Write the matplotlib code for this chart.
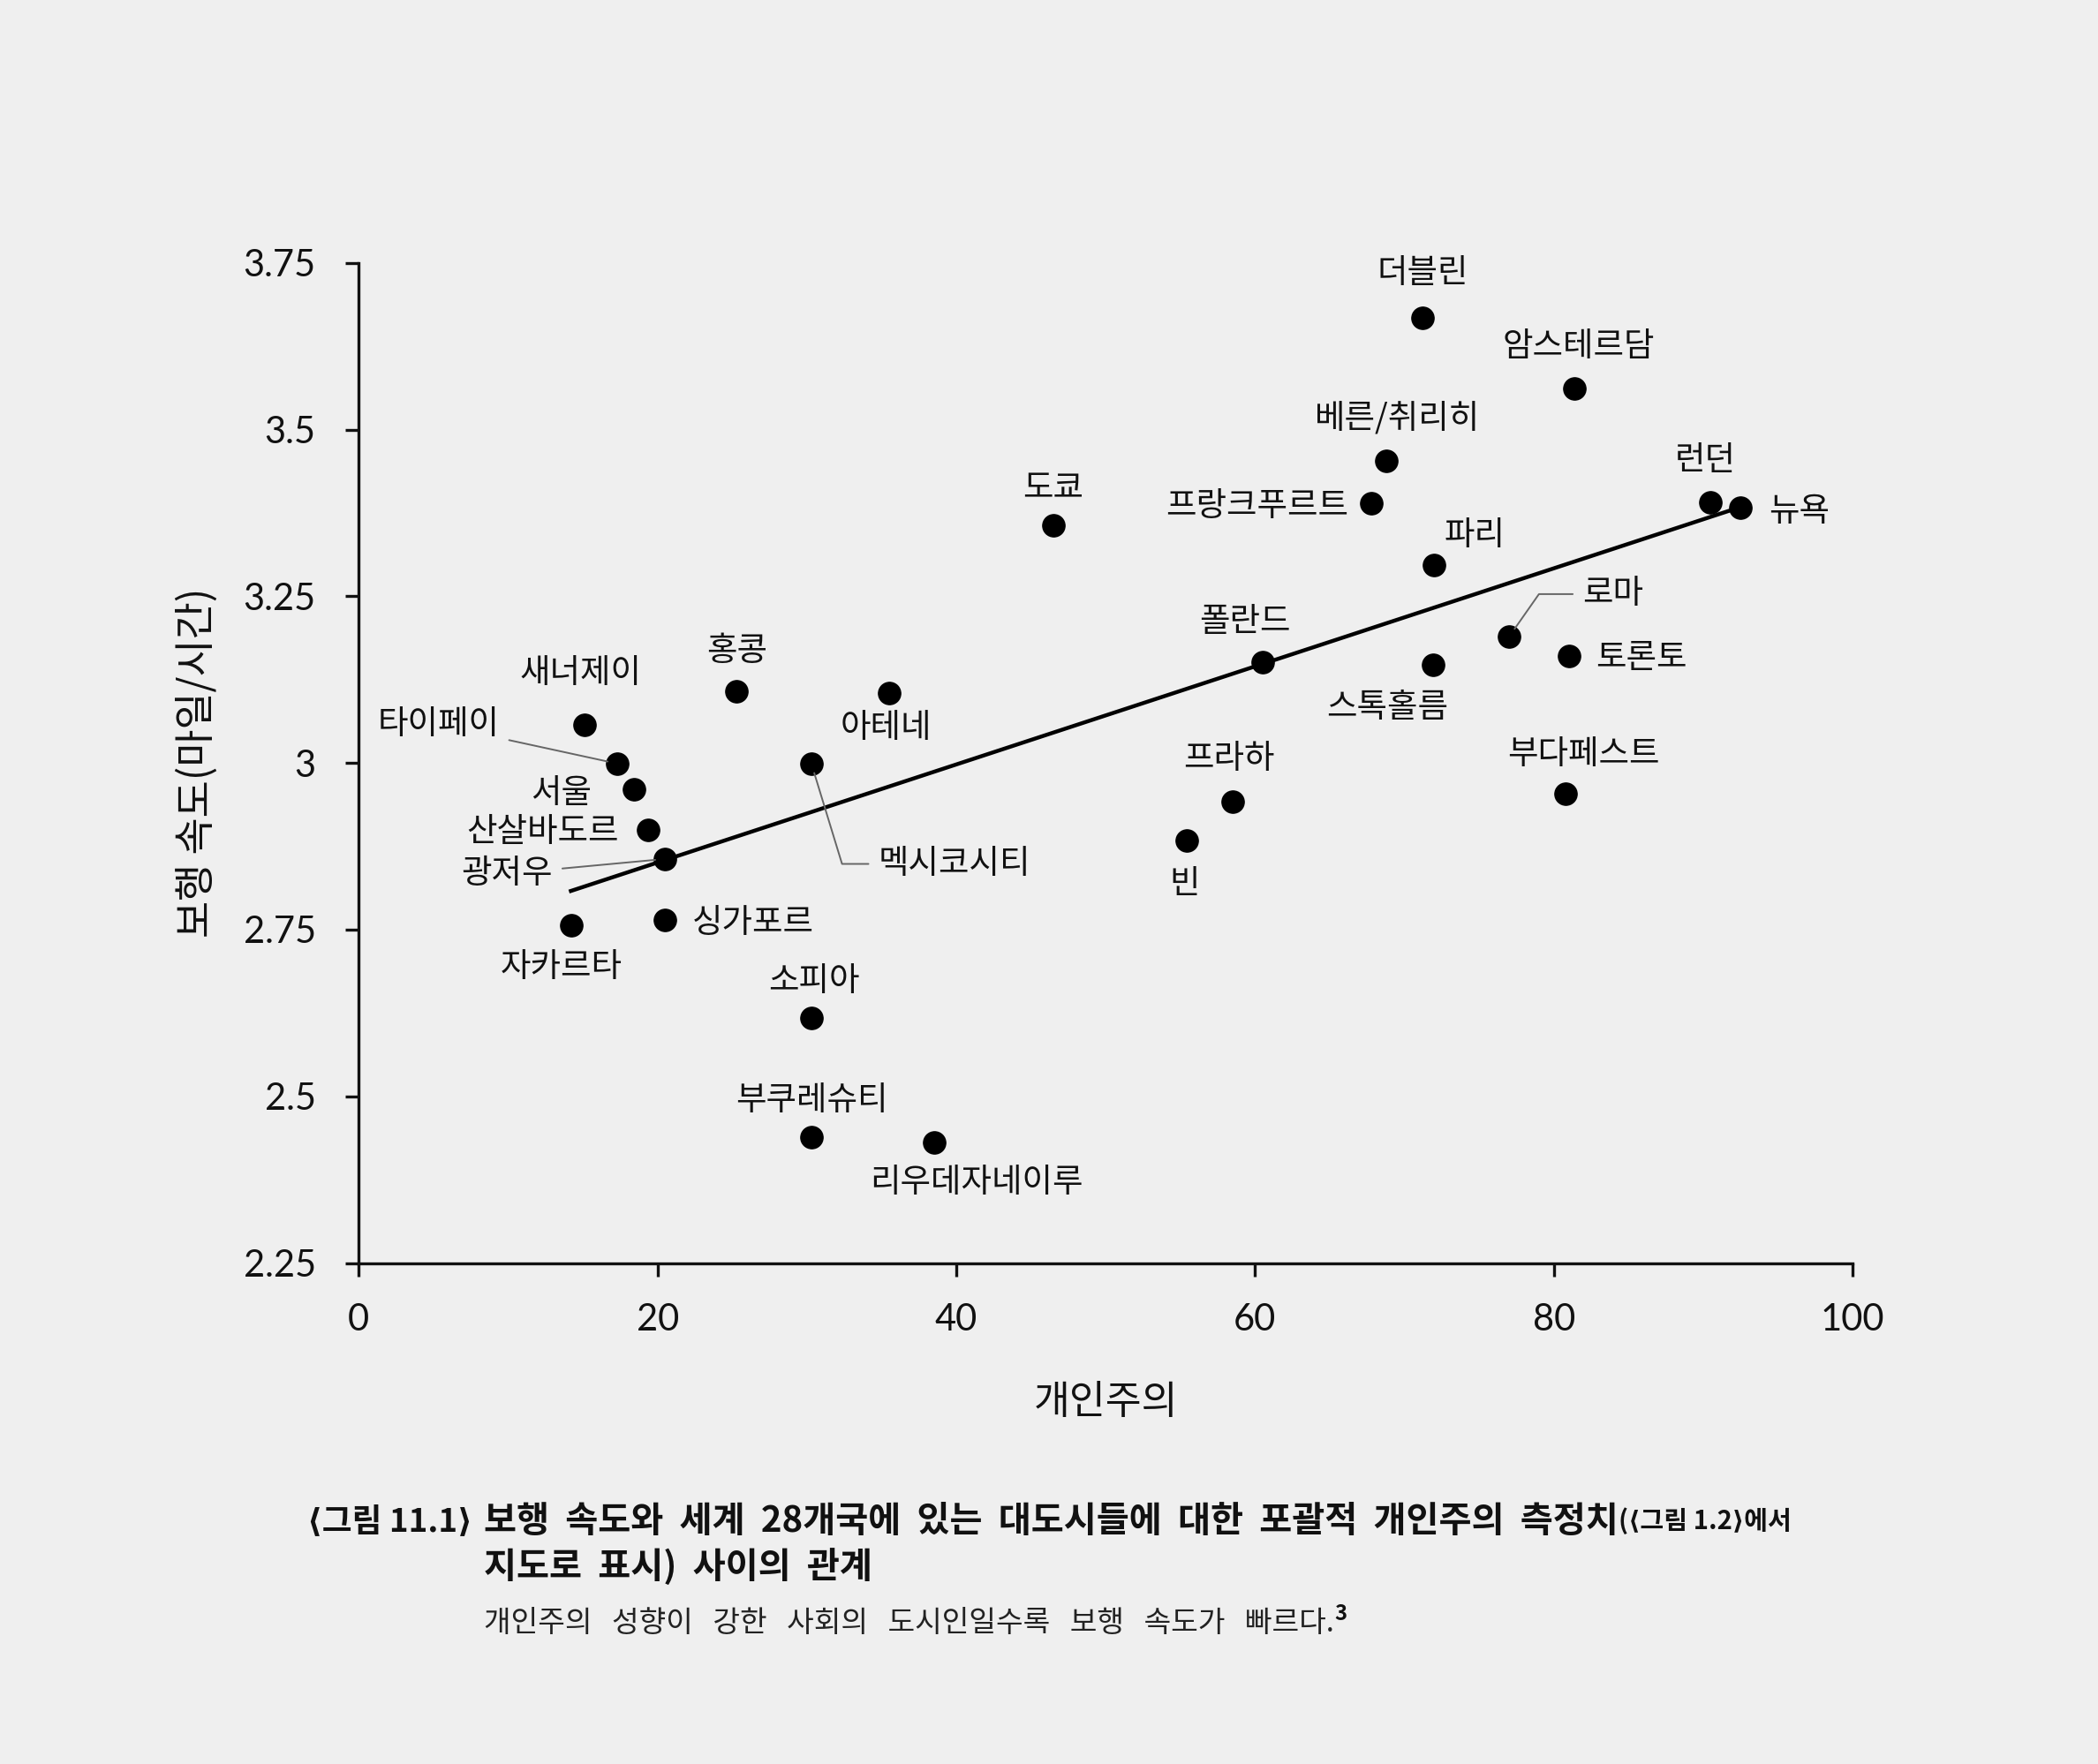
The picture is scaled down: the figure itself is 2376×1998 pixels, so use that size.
import numpy as np
import matplotlib
matplotlib.use('Agg')
import matplotlib.pyplot as plt

plt.rcParams['font.family'] = ['Noto Sans CJK KR', 'DejaVu Sans']

# data
cities = ['더블린', '암스테르담', '베른/취리히', '프랑크푸르트', '도쿄', '런던', '뉴욕',
          '파리', '로마', '폴란드', '스톡홀름', '토론토', '홍콩', '아테네', '멕시코시티',
          '새너제이', '타이페이', '서울', '산살바도르', '광저우', '자카르타', '싱가포르',
          '소피아', '부쿠레슈티', '리우데자네이루', '빈', '프라하', '부다페스트']
individualism = [71.2, 81.4, 68.8, 67.8, 46.5, 90.5, 92.5,
                 72.0, 77.0, 60.5, 71.9, 81.0, 25.3, 35.5, 30.3,
                 15.1, 17.3, 18.4, 19.4, 20.5, 14.2, 20.5,
                 30.3, 30.3, 38.5, 55.4, 58.5, 80.8]
walking_speed = [3.668, 3.562, 3.453, 3.389, 3.357, 3.391, 3.383,
                 3.297, 3.189, 3.151, 3.147, 3.161, 3.107, 3.105, 2.999,
                 3.057, 2.999, 2.960, 2.900, 2.856, 2.756, 2.764,
                 2.618, 2.439, 2.431, 2.884, 2.942, 2.954]
trend_x = [14.2, 92.4]
trend_y = [2.808, 3.383]

x_ticks = [0, 20, 40, 60, 80, 100]
y_ticks = [2.25, 2.5, 2.75, 3, 3.25, 3.5, 3.75]
y_tick_labels = ['2.25', '2.5', '2.75', '3', '3.25', '3.5', '3.75']

# label placement: (dx, dy) in reference pixels, horizontal alignment
label_pos = {
    '더블린': (0, 33, 'center'), '암스테르담': (3, 31, 'center'),
    '베른/취리히': (8, 31, 'center'), '프랑크푸르트': (-17, -2, 'right'),
    '도쿄': (0, 27, 'center'), '런던': (-4, 31, 'center'), '뉴욕': (21, -3, 'left'),
    '파리': (30, 22, 'center'), '로마': (55, 32, 'left'), '폴란드': (-13, 30, 'center'),
    '스톡홀름': (-34, -32, 'center'), '토론토': (20, -2, 'left'), '홍콩': (0, 30, 'center'),
    '아테네': (-2, -26, 'center'), '멕시코시티': (50, -75, 'left'),
    '새너제이': (-3, 39, 'center'), '타이페이': (-88, 29, 'right'), '서울': (-31, -3, 'right'),
    '산살바도르': (-22, -2, 'right'), '광저우': (-84, -11, 'right'),
    '자카르타': (-7, -31, 'center'), '싱가포르': (20, -2, 'left'), '소피아': (2, 27, 'center'),
    '부쿠레슈티': (0, 27, 'center'), '리우데자네이루': (32, -30, 'center'),
    '빈': (-1, -33, 'center'), '프라하': (-3, 32, 'center'), '부다페스트': (13, 29, 'center'),
}
leaders = {
    '타이페이': 'arc3,rad=0',
    '광저우': 'arc3,rad=0',
    '멕시코시티': 'angle,angleA=0,angleB=107,rad=0',
    '로마': 'angle,angleA=0,angleB=55,rad=0',
}
px = 1.515 * 0.72  # reference px -> points

bg = '#efefef'
ink = '#111111'
fig = plt.figure(figsize=(23.76, 19.98), dpi=100, facecolor=bg)
ax = fig.add_axes([0.171, 0.284, 0.712, 0.567])
ax.set_facecolor(bg)

ax.plot(trend_x, trend_y, color='black', lw=3.2, zorder=2)
ax.scatter(individualism, walking_speed, s=330, color='black', zorder=3)

for name, xv, yv in zip(cities, individualism, walking_speed):
    dx, dy, ha = label_pos[name]
    kw = {}
    if name in leaders:
        kw['arrowprops'] = dict(arrowstyle='-', color='#666666', lw=1.4,
                                connectionstyle=leaders[name], shrinkA=6, shrinkB=8)
    ax.annotate(name, (xv, yv), xytext=(dx * px, dy * px), textcoords='offset points',
                ha=ha, va='center', fontsize=27, color=ink, zorder=4, **kw)

ax.set_xlim(0, 100)
ax.set_ylim(2.25, 3.75)
ax.set_xticks(x_ticks)
ax.set_xticklabels([str(t) for t in x_ticks], fontfamily='Lato', fontsize=30)
ax.set_yticks(y_ticks)
ax.set_yticklabels(y_tick_labels, fontfamily='Lato', fontsize=30)
ax.tick_params(direction='out', length=11, width=2.4, colors=ink)
ax.tick_params(axis='x', pad=22)
ax.tick_params(axis='y', pad=24)
for side in ['top', 'right']:
    ax.spines[side].set_visible(False)
for side in ['left', 'bottom']:
    ax.spines[side].set_linewidth(2.4)
    ax.spines[side].set_color(ink)

ax.set_xlabel('개인주의', fontsize=32, color=ink, va='center')
ax.xaxis.set_label_coords(0.5, -0.139)
ax.set_ylabel('보행 속도(마일/시간)', fontsize=33, color=ink, va='center')
ax.yaxis.set_label_coords(-0.108, 0.5)

# caption
line1 = '  '.join('보행 속도와 세계 28개국에 있는 대도시들에 대한 포괄적 개인주의 측정치'.split(' '))
line2 = '  '.join('지도로 표시) 사이의 관계'.split(' '))
line3 = '   '.join('개인주의 성향이 강한 사회의 도시인일수록 보행 속도가 빠르다.'.split(' '))

fig.text(0.1466, 0.1376, '⟨그림 11.1⟩', fontsize=26.5, fontweight='bold', color=ink, va='center')
t1 = fig.text(0.2308, 0.1376, line1, fontsize=29, fontweight='bold', color=ink, va='center')
ax.annotate('(⟨그림 1.2⟩에서', xy=(1, 0.5), xycoords=t1, ha='left', va='center',
            fontsize=21, fontweight='bold', color=ink)
fig.text(0.2308, 0.111, line2, fontsize=29, fontweight='bold', color=ink, va='center')
t3 = fig.text(0.2308, 0.080, line3, fontsize=24, color='#222222', va='center')
ax.annotate('3', xy=(1, 0.8), xycoords=t3, ha='left', va='center',
            fontsize=17, fontweight='bold', color=ink)

fig.savefig('out.png', dpi=100, facecolor=bg)
